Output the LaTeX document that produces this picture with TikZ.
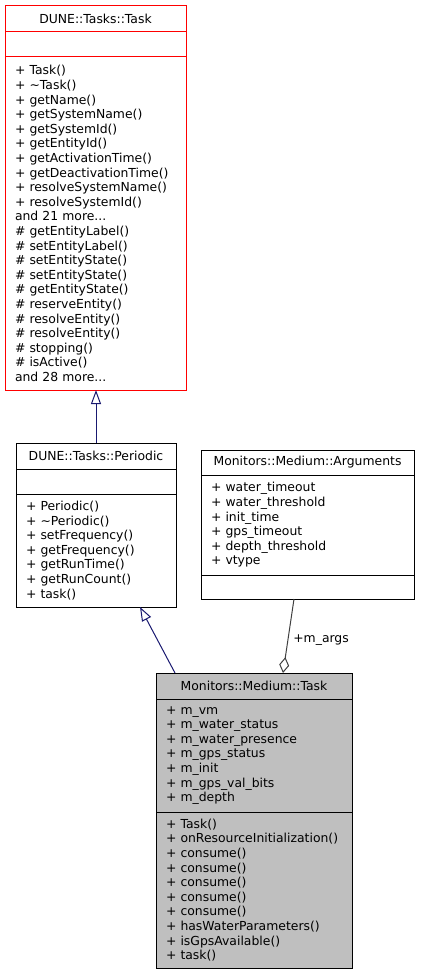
\documentclass[tikz,border=0pt]{standalone}
\usepackage{fontspec}
\setmainfont{DejaVu Sans}
\usepackage{tikz}
\usetikzlibrary{arrows.meta,positioning}
\definecolor{taskred}{HTML}{FF0000}
\definecolor{inheritblue}{HTML}{191970}
\definecolor{usegray}{HTML}{404040}
\definecolor{focusgray}{HTML}{BFBFBF}

\begin{document}
\begin{tikzpicture}[
  x=1pt, y=-1pt,
  font=\fontsize{12.4}{14.6}\selectfont,
  line width=1pt,
  head/.style={
    rectangle,
    draw=black,
    fill=white,
    outer sep=0pt,
    inner sep=0pt,
    align=center
  },
  part/.style={
    rectangle,
    draw=black,
    fill=white,
    outer sep=0pt,
    inner xsep=10pt,
    inner ysep=0pt,
    align=left
  },
  inherit/.style={-{Triangle[open, length=14pt, width=10pt]}, draw=inheritblue},
  aggr/.style={-{Diamond[open, length=16pt, width=10pt]}, draw=usegray}
]
\useasboundingbox (0,0) rectangle (420,976);

% DUNE::Tasks::Task
\node[head, draw=taskred, minimum width=181, minimum height=26] (dunetask) at (95.5,19) {DUNE::Tasks::Task};
\node[part, draw=taskred, minimum width=181, minimum height=25, below=0pt of dunetask] (dunetaskattr) {};
\node[part, draw=taskred, text width=161, minimum height=333, below=0pt of dunetaskattr] (dunetaskops) {%
+ Task()\\
+ \textasciitilde Task()\\
+ getName()\\
+ getSystemName()\\
+ getSystemId()\\
+ getEntityId()\\
+ getActivationTime()\\
+ getDeactivationTime()\\
+ resolveSystemName()\\
+ resolveSystemId()\\
and 21 more...\\
\# getEntityLabel()\\
\# setEntityLabel()\\
\# setEntityState()\\
\# setEntityState()\\
\# getEntityState()\\
\# reserveEntity()\\
\# resolveEntity()\\
\# resolveEntity()\\
\# stopping()\\
\# isActive()\\
and 28 more...};

% DUNE::Tasks::Periodic
\node[head, minimum width=160, minimum height=26] (periodic) at (96,456) {DUNE::Tasks::Periodic};
\node[part, minimum width=160, minimum height=25, below=0pt of periodic] (periodicattr) {};
\node[part, text width=140, minimum height=113, below=0pt of periodicattr] (periodicops) {%
+ Periodic()\\
+ \textasciitilde Periodic()\\
+ setFrequency()\\
+ getFrequency()\\
+ getRunTime()\\
+ getRunCount()\\
+ task()};

% Monitors::Medium::Arguments
\node[head, minimum width=213, minimum height=25] (args) at (307.5,462.5) {Monitors::Medium::Arguments};
\node[part, text width=193, minimum height=100, below=0pt of args] (argsattr) {%
+ water\_timeout\\
+ water\_threshold\\
+ init\_time\\
+ gps\_timeout\\
+ depth\_threshold\\
+ vtype};
\node[part, minimum width=213, minimum height=24, below=0pt of argsattr] (argsops) {};

% Monitors::Medium::Task
\node[head, fill=focusgray, minimum width=196, minimum height=26] (mtask) at (254,686) {Monitors::Medium::Task};
\node[part, fill=focusgray, text width=176, minimum height=113, below=0pt of mtask] (mtaskattr) {%
+ m\_vm\\
+ m\_water\_status\\
+ m\_water\_presence\\
+ m\_gps\_status\\
+ m\_init\\
+ m\_gps\_val\_bits\\
+ m\_depth};
\node[part, fill=focusgray, text width=176, minimum height=156, below=0pt of mtaskattr] (mtaskops) {%
+ Task()\\
+ onResourceInitialization()\\
+ consume()\\
+ consume()\\
+ consume()\\
+ consume()\\
+ consume()\\
+ hasWaterParameters()\\
+ isGpsAvailable()\\
+ task()};

% relations
\draw[inherit] (periodic.north) -- (periodic.north |- dunetaskops.south);
\draw[inherit] ([xshift=-79pt]mtask.north) -- ([xshift=44pt]periodicops.south);
\draw[aggr] ([xshift=-13.5pt]argsops.south) -- node[right=1pt, yshift=-4pt] {+m\_args} ([xshift=29pt]mtask.north);

\end{tikzpicture}
\end{document}
